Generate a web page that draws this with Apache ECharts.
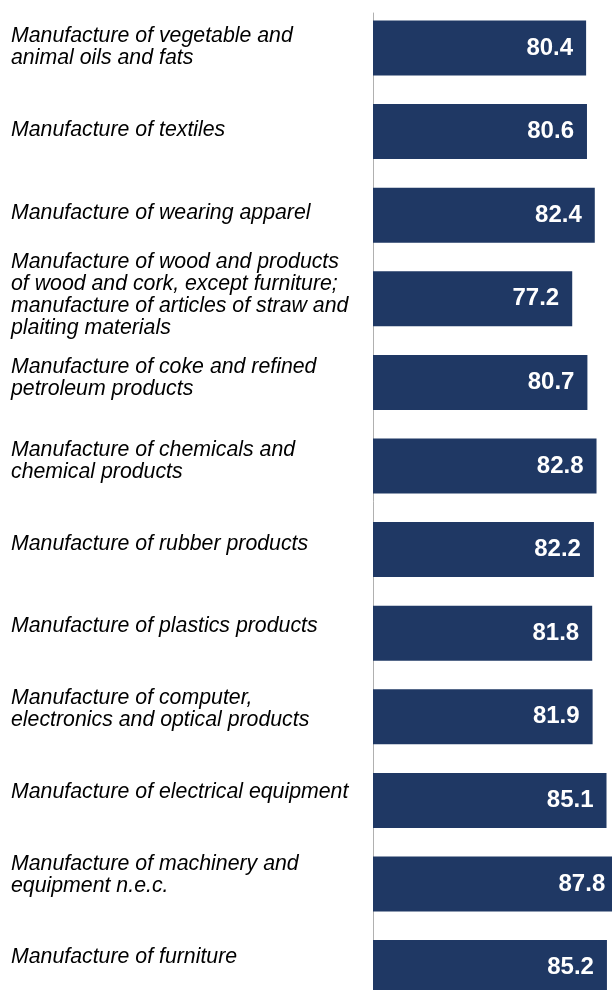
<!DOCTYPE html>
<html>
<head>
<meta charset="utf-8">
<script src="https://cdn.jsdelivr.net/npm/echarts@6/dist/echarts.min.js"></script>
<style>
  html, body { margin: 0; padding: 0; background: #fff; }
  #main { width: 612px; height: 990px; }
</style>
</head>
<body>
<div id="main"></div>
<script>
var categories = [
    'Manufacture of vegetable and\nanimal oils and fats',
    'Manufacture of textiles',
    'Manufacture of wearing apparel',
    'Manufacture of wood and products\nof wood and cork, except furniture;\nmanufacture of articles of straw and\nplaiting materials',
    'Manufacture of coke and refined\npetroleum products',
    'Manufacture of chemicals and\nchemical products',
    'Manufacture of rubber products',
    'Manufacture of plastics products',
    'Manufacture of computer,\nelectronics and optical products',
    'Manufacture of electrical equipment',
    'Manufacture of machinery and\nequipment n.e.c.',
    'Manufacture of furniture'
];
var values = [80.4, 80.6, 82.4, 77.2, 80.7, 82.8, 82.2, 81.8, 81.9, 85.1, 87.8, 85.2];

var myChart = echarts.init(document.getElementById('main'));
var option = {
    backgroundColor: '#ffffff',
    animation: false,
    grid: [
        // bars (runs past the right/bottom edge, the picture is cropped)
        { left: 373, right: -50.5, top: 6.2, height: 1003.2, outerBoundsMode: 'none', containLabel: false },
        // category labels, spaced a little tighter than the bars
        { left: 373, right: 0, top: 5.8, height: 993.1, outerBoundsMode: 'none', containLabel: false },
        // just the vertical axis line
        { left: 373, right: 0, top: 13, height: 990, outerBoundsMode: 'none', containLabel: false }
    ],
    xAxis: [
        { gridIndex: 0, type: 'value', min: 31.3, max: 98, show: false },
        { gridIndex: 1, type: 'value', min: 0, max: 1, show: false },
        { gridIndex: 2, type: 'value', min: 0, max: 1, show: false }
    ],
    yAxis: [
        {
            gridIndex: 0,
            type: 'category',
            inverse: true,
            data: categories,
            axisLine: { show: false },
            axisTick: { show: false },
            axisLabel: { show: false },
            splitLine: { show: false }
        },
        {
            gridIndex: 1,
            type: 'category',
            inverse: true,
            data: categories,
            axisLine: { show: false },
            axisTick: { show: false },
            splitLine: { show: false },
            axisLabel: {
                interval: 0,
                align: 'left',
                margin: 362,
                color: '#000000',
                fontStyle: 'italic',
                fontFamily: 'Liberation Sans',
                fontSize: 21.3,
                lineHeight: 22
            }
        },
        {
            gridIndex: 2,
            type: 'value',
            min: 0,
            max: 1,
            axisLine: { show: true, lineStyle: { color: '#b0b0b0', width: 1 } },
            axisTick: { show: false },
            axisLabel: { show: false },
            splitLine: { show: false }
        }
    ],
    series: [
        {
            type: 'bar',
            xAxisIndex: 0,
            yAxisIndex: 0,
            data: values,
            barWidth: 55,
            itemStyle: { color: '#1f3864' },
            label: {
                show: true,
                position: 'insideRight',
                distance: 13,
                color: '#ffffff',
                fontWeight: 'bold',
                fontFamily: 'Liberation Sans',
                fontSize: 24,
                formatter: function (p) { return p.value.toFixed(1); }
            }
        }
    ]
};
myChart.setOption(option);
</script>
</body>
</html>
